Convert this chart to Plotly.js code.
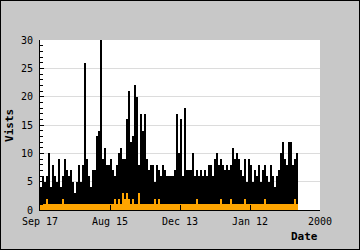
<!DOCTYPE html>
<html>
<head>
<meta charset="utf-8">
<script src="https://cdn.plot.ly/plotly-3.0.1.min.js"></script>
<style>
  html, body { margin: 0; padding: 0; background: #c8c8c8; }
  #wrap { width: 358px; height: 248px; border: 1px solid #000; background: #c8c8c8; }
</style>
</head>
<body>
<div id="wrap"><div id="chart"></div></div>
<script>
// Visits per period (black bars)
const visits = [4,6,5,6,10,4,8,6,5,9,4,6,9,7,6,7,5,3,5,8,5,8,26,9,6,4,7,7,13,14,
  30,9,11,8,8,9,7,6,8,10,11,9,9,16,21,12,13,22,20,8,17,14,17,9,7,8,8,5,8,7,
  6,8,7,6,6,6,6,7,17,10,16,6,18,7,7,7,10,6,7,6,7,6,7,6,8,8,6,9,10,8,
  9,8,7,8,7,8,11,9,10,9,7,6,9,5,9,8,5,7,6,8,5,7,8,6,5,8,6,4,6,7,
  10,12,9,8,12,12,8,9,10];
// Second series (orange bars)
const orangeVals = [1,1,1,2,1,1,1,1,1,1,1,2,1,1,1,1,1,1,1,1,1,1,1,1,1,1,1,1,1,1,
  1,1,1,1,1,1,1,2,1,2,1,3,2,3,2,1,2,1,1,3,1,1,1,1,1,1,1,2,1,2,
  1,1,1,1,1,1,1,1,1,1,1,1,1,1,1,1,1,1,2,1,1,1,1,1,1,1,1,1,1,1,
  2,1,1,1,1,2,1,1,1,1,1,1,2,1,1,1,1,1,1,1,1,1,2,1,1,1,1,1,1,1,
  1,1,1,1,1,1,1,2,1];
const idx = visits.map((_, i) => i);
const tickPos = [-0.5, 34.5, 69.5, 104.5, 139.5];
const tickLabels = ["Sep 17", "Aug 15", "Dec 13", "Jan 12", "2000"];

const mono = "DejaVu Sans Mono, monospace";
const data = [
  { type: "bar", x: idx, y: visits, marker: { color: "#000000", line: { width: 0 } }, hoverinfo: "skip" },
  { type: "bar", x: idx, y: orangeVals, marker: { color: "#ffa500", line: { width: 0 } }, hoverinfo: "skip" }
];
const layout = {
  width: 358, height: 248,
  margin: { l: 39, r: 39, t: 39, b: 39, pad: 0 },
  paper_bgcolor: "#c8c8c8", plot_bgcolor: "#ffffff",
  barmode: "overlay", bargap: 0, showlegend: false,
  font: { family: mono, size: 10, color: "#000" },
  xaxis: {
    range: [-0.5, 139.5], tickmode: "array", tickvals: tickPos, ticktext: tickLabels,
    ticks: "inside", ticklen: 5, tickcolor: "#000", tickwidth: 1,
    showline: true, linecolor: "#000", linewidth: 1, showgrid: false, zeroline: false,
    tickfont: { family: mono, size: 10, color: "#000" }, ticklabelstandoff: 2
  },
  yaxis: {
    range: [0, 30], dtick: 5, tick0: 0,
    ticks: "inside", ticklen: 4, tickcolor: "#000", tickwidth: 1,
    minor: { dtick: 1, ticks: "inside", ticklen: 3, tickcolor: "#000", showgrid: false },
    showline: true, linecolor: "#000", linewidth: 1,
    showgrid: true, gridcolor: "#dcdcdc", gridwidth: 1, zeroline: false,
    tickfont: { family: mono, size: 10, color: "#000" }, ticklabelstandoff: 4
  },
  annotations: [
    { text: "<b>Vists</b>", xref: "paper", yref: "paper", x: -0.111, y: 0.5, xanchor: "center", yanchor: "middle",
      textangle: -90, showarrow: false, font: { family: mono, size: 11, color: "#000" } },
    { text: "<b>Date</b>", xref: "paper", yref: "paper", x: 1, y: -0.155, xanchor: "right", yanchor: "middle",
      showarrow: false, font: { family: mono, size: 11, color: "#000" } }
  ]
};
Plotly.newPlot("chart", data, layout, { staticPlot: true, displayModeBar: false });
</script>
</body>
</html>
